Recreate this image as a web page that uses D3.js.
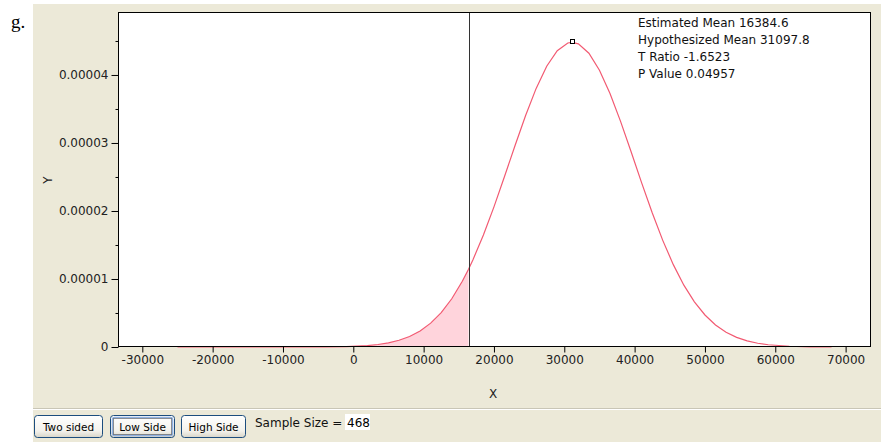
<!DOCTYPE html>
<html>
<head>
<meta charset="utf-8">
<script src="https://cdn.jsdelivr.net/npm/d3@7"></script>
<style>
  html, body { margin: 0; padding: 0; background: #ffffff; }
  svg { display: block; }
  text { font-family: "DejaVu Sans", Verdana, sans-serif; }
</style>
</head>
<body>
<svg id="chart" width="881" height="442"></svg>
<script>
// ---- Data ----
const curveX = [-25000, -22000, -19000, -16000, -13000, -10000, -7000, -4000, -1000, 2000, 3500,
  5000, 6500, 8000, 9500, 11000, 12500, 14000, 15500, 16384.6, 17000, 18500, 20000, 21500, 23000, 24500,
  26000, 27500, 29000, 30500, 31097.8, 32000, 33500, 35000, 36500, 38000, 39500, 41000, 42500,
  44000, 45500, 47000, 48500, 50000, 51500, 53000, 54500, 56000, 57500, 59000, 62000, 65000, 68000];
const curveY = [0, 0, 0, 0, 0.0000000002, 0.000000001, 0.000000005, 0.000000019, 0.000000068, 0.000000215, 0.000000368,
  0.000000611, 0.000000987, 0.00000155, 0.000002365, 0.00000351, 0.000005058, 0.00000709, 0.00000966, 0.00001144, 0.0000128, 0.00001647, 0.00002061, 0.00002507, 0.00002963, 0.00003405,
  0.00003803, 0.00004129, 0.00004357, 0.0000447, 0.0000448, 0.00004457, 0.0000432, 0.0000407, 0.00003727, 0.00003318, 0.0000287, 0.00002414, 0.00001974,
  0.00001568, 0.00001211, 0.00000909, 0.000006637, 0.00000471, 0.000003246, 0.00000218, 0.000001418, 0.000000898, 0.000000553, 0.000000331, 0.000000109, 0.000000032, 0.000000008];
const xTicks = [-30000, -20000, -10000, 0, 10000, 20000, 30000, 40000, 50000, 60000, 70000];
const yTicks = [0, 0.00001, 0.00002, 0.00003, 0.00004];
const yMinorTicks = [0.000005, 0.000015, 0.000025, 0.000035, 0.000045];
const estimatedMean = 16384.6;
const hypothesizedMean = 31097.8;
const peakDensity = 0.0000448;
const statLines = ["Estimated Mean 16384.6", "Hypothesized Mean 31097.8", "T Ratio -1.6523", "P Value 0.04957"];
const buttonLabels = ["Two sided", "Low Side", "High Side"];
const sampleSize = 468;

// ---- Layout ----
const svg = d3.select("#chart");
const plot = { left: 118, right: 871, top: 12, bottom: 347 };

// background panel
svg.append("rect").attr("x", 33).attr("y", 4).attr("width", 848).attr("height", 438).attr("fill", "#ece9d8");
// separator above toolbar
svg.append("line").attr("x1", 33).attr("x2", 881).attr("y1", 408.5).attr("y2", 408.5).attr("stroke", "#c9c6b6");
svg.append("line").attr("x1", 33).attr("x2", 881).attr("y1", 409.5).attr("y2", 409.5).attr("stroke", "#ffffff");

// "g." label
svg.append("text").attr("x", 11).attr("y", 28)
  .style("font-family", "'Liberation Serif', serif").attr("font-size", 19).attr("fill", "#000").text("g.");

const x = d3.scaleLinear().domain([-33457, 73610]).range([plot.left, plot.right]);
const y = d3.scaleLinear().domain([0, 0.00004926]).range([plot.bottom, plot.top]);

// plot background
svg.append("rect").attr("x", plot.left).attr("y", plot.top)
  .attr("width", plot.right - plot.left).attr("height", plot.bottom - plot.top).attr("fill", "#ffffff");

const pts = curveX.map((v, i) => [v, curveY[i]]);

// shaded low-side area
const shaded = pts.filter(p => p[0] <= estimatedMean);
svg.append("path").datum(shaded)
  .attr("d", d3.area().x(d => x(d[0])).y0(y(0)).y1(d => y(d[1])))
  .attr("fill", "#ffd4dc");

// curve
svg.append("path").datum(pts)
  .attr("d", d3.line().x(d => x(d[0])).y(d => y(d[1])))
  .attr("fill", "none").attr("stroke", "#f25a72").attr("stroke-width", 1.2);

// vertical line at estimated mean
svg.append("line").attr("x1", Math.round(x(estimatedMean)) + 0.5).attr("x2", Math.round(x(estimatedMean)) + 0.5)
  .attr("y1", plot.top).attr("y2", plot.bottom).attr("stroke", "#333").attr("stroke-width", 1);

// marker at hypothesized mean peak
svg.append("rect").attr("x", Math.round(x(hypothesizedMean)) - 2 + 0.5).attr("y", Math.round(y(peakDensity)) - 2.5)
  .attr("width", 4).attr("height", 4).attr("fill", "#fff").attr("stroke", "#000").attr("stroke-width", 1);

// frame
svg.append("rect").attr("x", plot.left + 0.5).attr("y", plot.top + 0.5)
  .attr("width", plot.right - plot.left - 1).attr("height", plot.bottom - plot.top - 1)
  .attr("fill", "none").attr("stroke", "#000").attr("stroke-width", 1);

// x axis
const xAxis = svg.append("g").attr("transform", `translate(0,${plot.bottom - 0.5})`)
  .call(d3.axisBottom(x).tickValues(xTicks).tickSize(6).tickPadding(3).tickFormat(d => String(d)));
xAxis.select(".domain").remove();
xAxis.selectAll("text").attr("font-size", 12).attr("fill", "#222").style("font-family", "'DejaVu Sans', sans-serif");
xAxis.selectAll("line").attr("stroke", "#000");

// y axis
const yAxis = svg.append("g").attr("transform", `translate(${plot.left + 0.5},0)`)
  .call(d3.axisLeft(y).tickValues(yTicks).tickSize(7).tickPadding(3)
    .tickFormat(d => d === 0 ? "0" : d3.format(".5f")(d)));
yAxis.select(".domain").remove();
yAxis.selectAll("text").attr("font-size", 12).attr("fill", "#222").style("font-family", "'DejaVu Sans', sans-serif");
yAxis.selectAll("line").attr("stroke", "#000");
const yMinor = svg.append("g").attr("transform", `translate(${plot.left + 0.5},0)`)
  .call(d3.axisLeft(y).tickValues(yMinorTicks).tickSize(3).tickFormat(""));
yMinor.select(".domain").remove();
yMinor.selectAll("line").attr("stroke", "#000");

// axis titles
svg.append("text").attr("x", 493).attr("y", 398).attr("text-anchor", "middle")
  .attr("font-size", 12).attr("fill", "#222").text("X");
svg.append("text").attr("transform", "translate(52,180) rotate(-90)").attr("text-anchor", "middle")
  .attr("font-size", 12).attr("fill", "#222").text("Y");

// stats text
svg.append("g").selectAll("text").data(statLines).join("text")
  .attr("x", 638).attr("y", (d, i) => 27 + i * 17)
  .attr("font-size", 12).attr("fill", "#111").text(d => d);

// toolbar buttons
const defs = svg.append("defs");
const grad = defs.append("linearGradient").attr("id", "btnGrad").attr("x1", 0).attr("x2", 0).attr("y1", 0).attr("y2", 1);
grad.append("stop").attr("offset", "0%").attr("stop-color", "#ffffff");
grad.append("stop").attr("offset", "70%").attr("stop-color", "#f3f2ec");
grad.append("stop").attr("offset", "100%").attr("stop-color", "#d8d5c8");
const btnX = [34, 110, 181];
const btnW = [69, 65, 65];
buttonLabels.forEach((lab, i) => {
  const g = svg.append("g");
  g.append("rect").attr("x", btnX[i] + 0.5).attr("y", 415.5).attr("width", btnW[i] - 1).attr("height", 22)
    .attr("rx", 3).attr("fill", "url(#btnGrad)").attr("stroke", "#1c4d7e").attr("stroke-width", 1);
  if (i === 1) {
    g.append("rect").attr("x", btnX[i] + 2.5).attr("y", 417.5).attr("width", btnW[i] - 5).attr("height", 18)
      .attr("rx", 2).attr("fill", "none").attr("stroke", "#8fb0e0").attr("stroke-width", 1.5);
    g.append("rect").attr("x", btnX[i] + 3.5).attr("y", 418.5).attr("width", btnW[i] - 7).attr("height", 16)
      .attr("fill", "none").attr("stroke", "#333").attr("stroke-width", 1).attr("stroke-dasharray", "1,1");
  }
  g.append("text").attr("x", btnX[i] + btnW[i] / 2).attr("y", 431).attr("text-anchor", "middle")
    .attr("font-size", 10.5).attr("fill", "#000").text(lab);
});
svg.append("text").attr("x", 255).attr("y", 427).attr("font-size", 12).attr("fill", "#111").text("Sample Size = ");
svg.append("rect").attr("x", 345).attr("y", 414).attr("width", 25).attr("height", 16).attr("fill", "#fff");
svg.append("text").attr("x", 347).attr("y", 427).attr("font-size", 12).attr("fill", "#000").text(sampleSize);
</script>
</body>
</html>
